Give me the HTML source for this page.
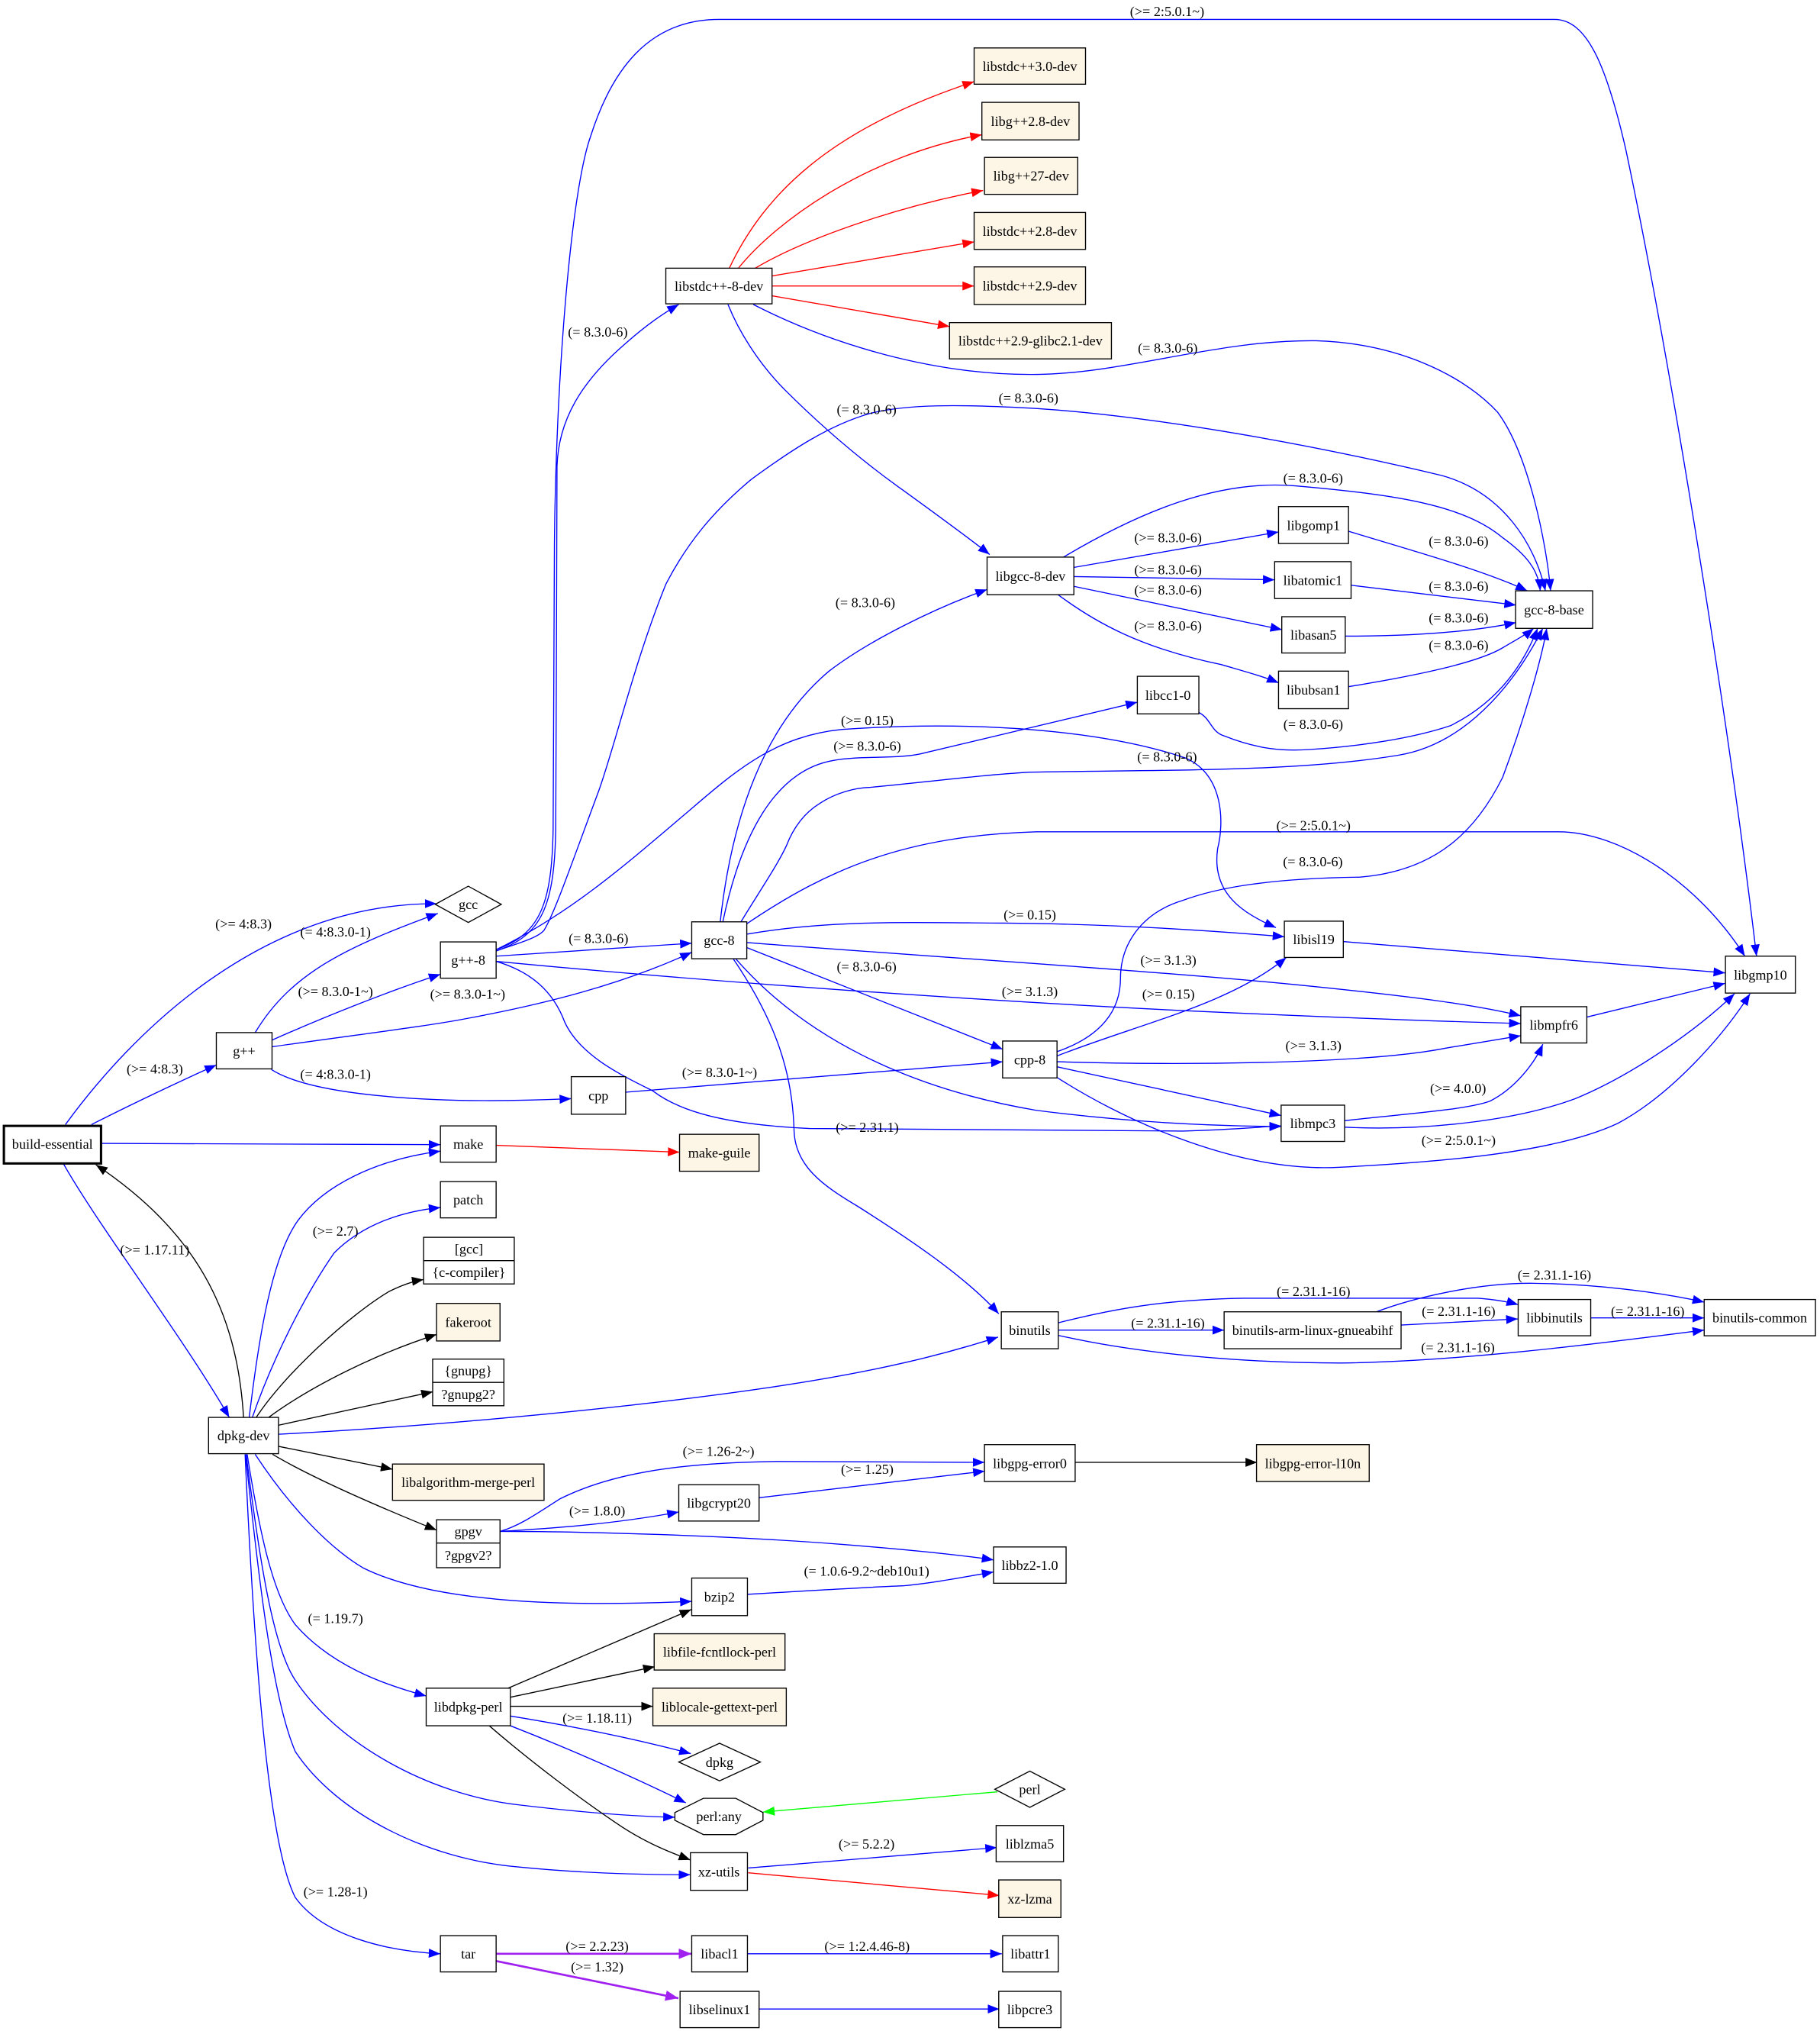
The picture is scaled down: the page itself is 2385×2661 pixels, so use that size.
<!DOCTYPE html>
<html><head><meta charset="utf-8"><style>
html,body{margin:0;padding:0;background:#fff;}
svg{display:block;}
text{font-family:"Liberation Serif","Times New Roman",serif;font-size:10.7px;fill:#000;text-anchor:middle;}
.e{fill:none;stroke-width:0.8;}
.b{stroke:#0000ff;}.k{stroke:#000;}.r{stroke:#ff0000;}.g{stroke:#00ff00;}.p{stroke:#a020f0;stroke-width:1.6;}
.n{fill:#fff;stroke:#000;stroke-width:0.8;}
.f{fill:#fdf5e6;stroke:#000;stroke-width:0.8;}
</style></head><body>
<svg xmlns="http://www.w3.org/2000/svg" width="2385" height="2661" viewBox="0 0 1405 1567.6">
<defs>
<marker id="ab" markerUnits="userSpaceOnUse" markerWidth="9" markerHeight="7" viewBox="0 0 9 7" refX="9" refY="3.5" orient="auto"><path d="M0,0L9,3.5L0,7z" fill="#0000ff"/></marker>
<marker id="ak" markerUnits="userSpaceOnUse" markerWidth="9" markerHeight="7" viewBox="0 0 9 7" refX="9" refY="3.5" orient="auto"><path d="M0,0L9,3.5L0,7z" fill="#000"/></marker>
<marker id="ar" markerUnits="userSpaceOnUse" markerWidth="9" markerHeight="7" viewBox="0 0 9 7" refX="9" refY="3.5" orient="auto"><path d="M0,0L9,3.5L0,7z" fill="#ff0000"/></marker>
<marker id="ag" markerUnits="userSpaceOnUse" markerWidth="9" markerHeight="7" viewBox="0 0 9 7" refX="9" refY="3.5" orient="auto"><path d="M0,0L9,3.5L0,7z" fill="#00ff00"/></marker>
<marker id="ap" markerUnits="userSpaceOnUse" markerWidth="10" markerHeight="8" viewBox="0 0 10 8" refX="10" refY="4" orient="auto"><path d="M0,0L10,4L0,8z" fill="#a020f0"/></marker>
</defs>
<rect x="0" y="0" width="1405" height="1567.6" fill="#fff"/>

<!-- blue edges -->
<g class="e b" marker-end="url(#ab)">
<path d="M50.5,868 C100,800 200,697 337,697.5"/>
<path d="M70.6,868 C100,853 140,834 167,822"/>
<path d="M78,882.5 L340,883.5"/>
<path d="M48,896.5 C75,945 140,1030 177,1094"/>
<path d="M197,797 C225,750 270,730 338,705"/>
<path d="M209.5,803 C250,785 300,765 340,752"/>
<path d="M209.5,808 C280,798 330,792 361,786 C420,775 480,760 534,735"/>
<path d="M209.5,825.5 C240,845 330,853 441,848"/>
<path d="M383,734 C418,722 428,700 429,640 C430,560 429,420 430,360 C431,325 448,295 483,265 C500,250 512,242 524,235"/>
<path d="M383,733 C416,721 426,700 427,640 L428,420 C429,300 440,150 456,105 C472,55 500,15 555,15 L1200,15 C1225,15 1240,50 1255,115 C1290,280 1335,560 1356,738"/>
<path d="M383,734 C400,728 415,724 420,718 C428,705 440,670 462,611 C475,575 490,510 514,451 C530,420 550,395 580,370 C610,348 640,328 672,319 C700,312 740,312 795,315 C880,320 1000,340 1113,367 C1160,380 1185,420 1193,456"/>
<path d="M383,738 L534,728"/>
<path d="M383,733 C440,705 480,670 534,624 C570,593 600,568 650,563 C750,556 850,563 915,585 C945,598 945,635 940,655 C935,690 960,705 985,716"/>
<path d="M383,742 C550,758 750,772 913,780 C1000,784 1100,788 1174,790"/>
<path d="M383,742 C410,750 427,765 436,789 C448,815 480,830 504,842 C525,858 560,868 625,871 L913,873 C950,872 970,870 989,869"/>
<path d="M556,711.5 C565,630 590,560 640,518 C670,495 720,470 762,455"/>
<path d="M558,711.5 C572,645 598,595 643,587 C665,583 690,586 710,582 L878,542"/>
<path d="M572,711.5 C585,690 600,668 607,653 C612,640 620,628 633,620 C645,612 660,608 672,607.7 C720,603 760,598 795,596 C900,594 1000,596 1079,583 C1130,575 1168,530 1191,485"/>
<path d="M576.5,713 C640,670 700,645 800,642 L1203,642 C1250,642 1310,680 1347,738"/>
<path d="M576.5,721 C640,710 700,712 775,712.5 C850,713 920,717 991.5,723"/>
<path d="M576.5,727.5 C700,737 900,750 1000,760 C1100,770 1140,776 1174,784"/>
<path d="M576.5,731.4 L774,809.8"/>
<path d="M568,740 C620,800 700,840 800,857 C870,866 930,869 989,869.5"/>
<path d="M566,740 C600,790 612,830 613,873 C614,900 635,915 662,931 C700,955 745,985 771,1014"/>
<path d="M816,811.7 C850,800 865,780 865,755 C865,730 880,705 913,695 C940,685 980,678 1050,677 C1110,672 1140,640 1160,600 C1175,560 1190,510 1194,485"/>
<path d="M816,815 C880,790 950,775 993,739"/>
<path d="M816,819.5 C900,822 1050,822 1116,809 L1174,799.4"/>
<path d="M816,823.4 L989,861"/>
<path d="M816,831.6 C860,860 950,905 1033,901 C1110,897 1200,890 1249,867 C1290,845 1330,800 1351,767"/>
<path d="M483,843 L774,819.5"/>
<path d="M821,430 C880,395 940,370 1000,375 C1080,382 1130,390 1160,415 C1178,428 1188,440 1189,456"/>
<path d="M828.7,438 L987,410.6"/>
<path d="M828.7,445 L984,447.5"/>
<path d="M828.7,452.5 L989.7,486"/>
<path d="M816.8,459 C845,480 880,500 943,513 C960,518 975,522 987,527"/>
<path d="M1041,410 C1090,425 1145,440 1179,456"/>
<path d="M1043,451.7 L1170.3,467"/>
<path d="M1038.4,491 C1080,491 1130,489 1170.3,480.5"/>
<path d="M1041,530 C1090,522 1140,512 1160,500 C1170,494 1178,490 1184,485"/>
<path d="M925.7,550 C935,555 935,565 945,568 C970,578 990,580 1011,578.5 C1050,576 1090,570 1120,560 C1160,540 1178,508 1187,485"/>
<path d="M581.5,235 C640,265 720,290 801,289 C870,288 940,262 1016,263 C1080,265 1130,290 1156,318 C1180,350 1194,420 1197,456"/>
<path d="M562,235 C570,255 585,280 606,301 C630,325 660,352 698,379 C720,395 745,413 764,428"/>
<path d="M817.4,1026.6 L945,1026.6"/>
<path d="M817,1021 C860,1010 900,1003 960,1002 L1141,1002 C1155,1003 1165,1005 1172,1007"/>
<path d="M817,1030.7 C880,1045 960,1052 1035,1052 C1130,1051 1250,1035 1315.6,1026.6"/>
<path d="M1062.6,1012.5 C1090,1002 1140,990 1184,990.5 C1230,991 1280,997 1315.6,1005"/>
<path d="M1081.6,1022.7 L1171.7,1018"/>
<path d="M1228,1017.2 L1315.6,1017.2"/>
<path d="M1036.6,726.7 L1331.8,750.9"/>
<path d="M1225,785 L1331.8,759"/>
<path d="M1038,865 C1080,860 1130,857 1150,850 C1170,840 1185,820 1191,806"/>
<path d="M1038,870 C1100,873 1170,865 1216,848 C1260,830 1310,795 1339,767"/>
<path d="M192.4,1094 C200,1030 210,970 230,942 C250,915 290,895 340,888.5"/>
<path d="M194.8,1094 C210,1050 235,1000 258,967 C280,945 310,935 340,932"/>
<path d="M215,1107 C350,1100 500,1085 600,1070 C680,1058 730,1045 770.5,1032"/>
<path d="M197,1122.5 C225,1165 255,1195 280,1210 C330,1235 420,1241 534,1236"/>
<path d="M190.8,1122.5 C200,1180 210,1230 228,1254 C255,1285 295,1300 329,1309"/>
<path d="M190,1122.5 C200,1200 210,1270 228,1297 C260,1345 330,1385 400,1393 C450,1399 490,1402 521,1402.6"/>
<path d="M189.5,1122.5 C200,1220 210,1310 228,1352 C260,1400 330,1435 400,1441 C450,1446 500,1447 533,1447"/>
<path d="M189.2,1122.5 C195,1250 205,1420 228,1464.6 C250,1495 300,1506 340,1508"/>
<path d="M386,1182 C400,1178 412,1170 432,1157 C470,1138 520,1129 600,1128 L760,1128.7"/>
<path d="M386,1182 C420,1180 470,1177 524,1167"/>
<path d="M386,1182 C450,1182 560,1185 650,1192 C700,1196 740,1200 767,1204"/>
<path d="M586,1156 L760.2,1135.5"/>
<path d="M576.5,1230.6 C620,1228 670,1225 697,1224 C720,1222 745,1217 767,1213.3"/>
<path d="M394,1324.5 C440,1332 490,1342 533.3,1353.5"/>
<path d="M394,1332 C440,1350 490,1372 529.5,1391.5"/>
<path d="M577.6,1441.8 L769.6,1426"/>
<path d="M576.5,1508 L773.4,1508"/>
<path d="M585.5,1550.6 L771.5,1550.6"/>
</g>

<!-- black edges -->
<g class="e k" marker-end="url(#ak)">
<path d="M188,1094 C183,1010 150,950 74,899"/>
<path d="M197.8,1094 C220,1060 270,1015 300,997 C310,992 318,989 327,987.6"/>
<path d="M207.4,1094 C240,1070 290,1045 337,1030"/>
<path d="M215.2,1100 L334.2,1074.2"/>
<path d="M215.2,1116.4 L303,1134"/>
<path d="M210.4,1122.5 C240,1140 290,1162 337,1181"/>
<path d="M830,1128.7 L970.5,1128.7"/>
<path d="M392.2,1303 L533.7,1242.3"/>
<path d="M394,1310 L505.5,1286.4"/>
<path d="M394,1317 L504,1317"/>
<path d="M377,1331.4 C410,1360 450,1390 480,1410 C500,1423 518,1430 533,1435.6"/>
</g>

<!-- red edges -->
<g class="e r" marker-end="url(#ar)">
<path d="M563,207 C590,150 640,100 752,63"/>
<path d="M570,207 C600,170 670,120 758,104"/>
<path d="M583,207 C620,185 690,160 759,147"/>
<path d="M596,213 L752,186.7"/>
<path d="M596,220.7 L752,220.7"/>
<path d="M596,228.3 L733,252"/>
<path d="M383,884 L524.6,889.3"/>
<path d="M577.6,1445.5 L771.5,1463"/>
</g>

<path class="e g" marker-end="url(#ag)" d="M770,1383 L589,1398.6"/>
<g class="e p" marker-end="url(#ap)">
<path d="M383,1508 L534,1508"/>
<path d="M383,1513.6 L523.7,1542.3"/>
</g>

<!-- nodes -->
<rect x="3" y="869" width="75" height="29" fill="#fff" stroke="#000" stroke-width="1.8"/>
<text x="40.5" y="886.7">build-essential</text>
<polygon class="n" points="336,698 361.5,684 387,698 361.5,712"/>
<text x="361.5" y="701.7">gcc</text>
<rect class="n" x="340" y="727" width="43" height="28"/><text x="361.5" y="744.7">g++-8</text>
<rect class="n" x="167" y="797" width="43" height="28"/><text x="188.5" y="814.7">g++</text>
<rect class="n" x="441" y="831" width="42" height="29"/><text x="462" y="849.2">cpp</text>
<rect class="n" x="340" y="869" width="43" height="28"/><text x="361.5" y="886.7">make</text>
<rect class="n" x="340" y="912" width="43" height="28"/><text x="361.5" y="929.7">patch</text>
<rect class="n" x="327" y="955" width="70" height="36"/><line x1="327" y1="973" x2="397" y2="973" stroke="#000" stroke-width="0.8"/>
<text x="362" y="967.7">[gcc]</text><text x="362" y="985.7">{c-compiler}</text>
<rect class="f" x="337" y="1006" width="49" height="29"/><text x="361.5" y="1024.2">fakeroot</text>
<rect class="n" x="334" y="1049" width="55" height="36"/><line x1="334" y1="1067" x2="389" y2="1067" stroke="#000" stroke-width="0.8"/>
<text x="361.5" y="1061.7">{gnupg}</text><text x="361.5" y="1079.7">?gnupg2?</text>
<rect class="n" x="161" y="1094" width="54" height="28"/><text x="188" y="1111.7">dpkg-dev</text>
<rect class="f" x="303" y="1130" width="117" height="28"/><text x="361.5" y="1147.7">libalgorithm-merge-perl</text>
<rect class="n" x="337" y="1173" width="49" height="37"/><line x1="337" y1="1191" x2="386" y2="1191" stroke="#000" stroke-width="0.8"/>
<text x="361.5" y="1185.7">gpgv</text><text x="361.5" y="1204.2">?gpgv2?</text>
<rect class="n" x="329" y="1303" width="65" height="29"/><text x="361.5" y="1321.2">libdpkg-perl</text>
<rect class="n" x="340" y="1494" width="43" height="28"/><text x="361.5" y="1511.7">tar</text>

<rect class="n" x="760" y="1115" width="70" height="28.5"/><text x="795" y="1133">libgpg-error0</text>
<rect class="f" x="970" y="1115" width="87" height="28.5"/><text x="1013.5" y="1133">libgpg-error-l10n</text>
<rect class="n" x="524" y="1146" width="62" height="28"/><text x="555" y="1163.7">libgcrypt20</text>
<rect class="n" x="767" y="1194" width="56" height="28"/><text x="795" y="1211.7">libbz2-1.0</text>
<rect class="n" x="534" y="1218" width="43" height="29"/><text x="555.5" y="1236.2">bzip2</text>
<rect class="f" x="505" y="1261" width="101" height="28"/><text x="555.5" y="1278.7">libfile-fcntllock-perl</text>
<rect class="f" x="504" y="1303" width="103" height="29"/><text x="555.5" y="1321.2">liblocale-gettext-perl</text>
<polygon class="n" points="524,1360 555.5,1345.5 587,1360 555.5,1374.5"/><text x="555.5" y="1363.7">dpkg</text>
<polygon class="n" points="768,1381 795,1367 822,1381 795,1395"/><text x="795" y="1384.7">perl</text>
<polygon class="n" points="521,1399 521,1405 543,1416 568,1416 589,1405 589,1399 568,1388 543,1388"/><text x="555" y="1405.7">perl:any</text>
<rect class="n" x="533" y="1430" width="44" height="29"/><text x="555" y="1448.2">xz-utils</text>
<rect class="n" x="769" y="1409" width="52" height="28"/><text x="795" y="1426.7">liblzma5</text>
<rect class="f" x="771" y="1451" width="48" height="29"/><text x="795" y="1469.2">xz-lzma</text>
<rect class="n" x="534" y="1494" width="43" height="28"/><text x="555.5" y="1511.7">libacl1</text>
<rect class="n" x="774" y="1494" width="43" height="28"/><text x="795.5" y="1511.7">libattr1</text>
<rect class="n" x="525" y="1537" width="61" height="28"/><text x="555.5" y="1554.7">libselinux1</text>
<rect class="n" x="771" y="1537" width="48" height="28"/><text x="795" y="1554.7">libpcre3</text>

<rect class="n" x="514" y="207" width="82" height="27.5"/><text x="555" y="224.5">libstdc++-8-dev</text>
<rect class="f" x="752" y="37" width="86" height="28"/><text x="795" y="54.7">libstdc++3.0-dev</text>
<rect class="f" x="758" y="79" width="75" height="29"/><text x="795.5" y="97.2">libg++2.8-dev</text>
<rect class="f" x="760" y="121.5" width="72" height="28.5"/><text x="796" y="139.4">libg++27-dev</text>
<rect class="f" x="752" y="164" width="86" height="28.5"/><text x="795" y="181.9">libstdc++2.8-dev</text>
<rect class="f" x="752" y="206" width="86" height="29"/><text x="795" y="224.2">libstdc++2.9-dev</text>
<rect class="f" x="733" y="249" width="125" height="28"/><text x="795.5" y="266.7">libstdc++2.9-glibc2.1-dev</text>

<rect class="n" x="1332" y="738" width="54" height="28.5"/><text x="1359" y="756">libgmp10</text>
<rect class="n" x="991.5" y="711" width="45.5" height="28"/><text x="1014.2" y="728.7">libisl19</text>
<rect class="n" x="1174" y="777" width="51" height="28"/><text x="1199.5" y="794.7">libmpfr6</text>
<rect class="n" x="989" y="853" width="49" height="28"/><text x="1013.5" y="870.7">libmpc3</text>
<rect class="n" x="762" y="430" width="67" height="29"/><text x="795.5" y="448.2">libgcc-8-dev</text>
<rect class="n" x="987" y="391" width="54" height="28.5"/><text x="1014" y="409">libgomp1</text>
<rect class="n" x="984" y="433.5" width="59" height="28.5"/><text x="1013.5" y="451.4">libatomic1</text>
<rect class="n" x="989.5" y="476" width="49" height="28"/><text x="1014" y="493.7">libasan5</text>
<rect class="n" x="987" y="518" width="54" height="29"/><text x="1014" y="536.2">libubsan1</text>
<rect class="n" x="878" y="522" width="47.5" height="29"/><text x="901.7" y="540.2">libcc1-0</text>
<rect class="n" x="1170" y="456" width="59.5" height="29"/><text x="1199.7" y="474.2">gcc-8-base</text>
<rect class="n" x="534" y="711.5" width="42.5" height="28.5"/><text x="555.2" y="729.4">gcc-8</text>
<rect class="n" x="774" y="803.5" width="42" height="28.5"/><text x="795" y="821.4">cpp-8</text>
<rect class="f" x="524.6" y="875.5" width="61.4" height="28.5"/><text x="555.3" y="893.4">make-guile</text>
<rect class="n" x="773" y="1012.5" width="44" height="28.5"/><text x="795" y="1030.4">binutils</text>
<rect class="n" x="945" y="1012.5" width="136.6" height="28.5"/><text x="1013.3" y="1030.4">binutils-arm-linux-gnueabihf</text>
<rect class="n" x="1172" y="1003" width="56" height="28"/><text x="1200" y="1020.7">libbinutils</text>
<rect class="n" x="1315.6" y="1003" width="85.9" height="28"/><text x="1358.5" y="1020.7">binutils-common</text>

<!-- edge labels -->
<g>
<text x="901" y="12.4">(&gt;= 2:5.0.1~)</text>
<text x="461.5" y="259.7">(= 8.3.0-6)</text>
<text x="901.5" y="272.2">(= 8.3.0-6)</text>
<text x="794" y="310.7">(= 8.3.0-6)</text>
<text x="669" y="319.7">(= 8.3.0-6)</text>
<text x="1013.7" y="372.7">(= 8.3.0-6)</text>
<text x="901.7" y="418.7">(&gt;= 8.3.0-6)</text>
<text x="1126" y="421.2">(= 8.3.0-6)</text>
<text x="901.7" y="443.2">(&gt;= 8.3.0-6)</text>
<text x="1126" y="456.1">(= 8.3.0-6)</text>
<text x="901.7" y="459">(&gt;= 8.3.0-6)</text>
<text x="668" y="468.7">(= 8.3.0-6)</text>
<text x="1126" y="480.3">(= 8.3.0-6)</text>
<text x="901.7" y="486.5">(&gt;= 8.3.0-6)</text>
<text x="1126" y="501.7">(= 8.3.0-6)</text>
<text x="669.5" y="559.7">(&gt;= 0.15)</text>
<text x="1013.8" y="562.7">(= 8.3.0-6)</text>
<text x="669.5" y="579.3">(&gt;= 8.3.0-6)</text>
<text x="901" y="587.7">(= 8.3.0-6)</text>
<text x="1014" y="640.7">(&gt;= 2:5.0.1~)</text>
<text x="1013.5" y="668.7">(= 8.3.0-6)</text>
<text x="188" y="716.7">(&gt;= 4:8.3)</text>
<text x="259" y="722.7">(= 4:8.3.0-1)</text>
<text x="462" y="727.7">(= 8.3.0-6)</text>
<text x="795" y="709.7">(&gt;= 0.15)</text>
<text x="902" y="744.7">(&gt;= 3.1.3)</text>
<text x="669" y="749.7">(= 8.3.0-6)</text>
<text x="259" y="768.7">(&gt;= 8.3.0-1~)</text>
<text x="361" y="770.7">(&gt;= 8.3.0-1~)</text>
<text x="795" y="768.7">(&gt;= 3.1.3)</text>
<text x="902" y="770.7">(&gt;= 0.15)</text>
<text x="1014" y="810.7">(&gt;= 3.1.3)</text>
<text x="119.5" y="828.7">(&gt;= 4:8.3)</text>
<text x="259" y="832.7">(= 4:8.3.0-1)</text>
<text x="555.5" y="831.2">(&gt;= 8.3.0-1~)</text>
<text x="1125.6" y="843.7">(&gt;= 4.0.0)</text>
<text x="669.5" y="873.7">(&gt;= 2.31.1)</text>
<text x="1126" y="883.7">(&gt;= 2:5.0.1~)</text>
<text x="259" y="953.7">(&gt;= 2.7)</text>
<text x="119.5" y="968.2">(&gt;= 1.17.11)</text>
<text x="1200" y="987.7">(= 2.31.1-16)</text>
<text x="1014" y="1000.3">(= 2.31.1-16)</text>
<text x="901.6" y="1024.7">(= 2.31.1-16)</text>
<text x="1126" y="1015.7">(= 2.31.1-16)</text>
<text x="1272" y="1015.7">(= 2.31.1-16)</text>
<text x="1125.5" y="1043.7">(= 2.31.1-16)</text>
<text x="554.7" y="1123.7">(&gt;= 1.26-2~)</text>
<text x="669.5" y="1137.7">(&gt;= 1.25)</text>
<text x="461" y="1169.7">(&gt;= 1.8.0)</text>
<text x="669" y="1216.1">(= 1.0.6-9.2~deb10u1)</text>
<text x="259" y="1252.7">(= 1.19.7)</text>
<text x="461" y="1329.7">(&gt;= 1.18.11)</text>
<text x="669" y="1426.7">(&gt;= 5.2.2)</text>
<text x="259" y="1463.7">(&gt;= 1.28-1)</text>
<text x="461" y="1505.7">(&gt;= 2.2.23)</text>
<text x="461" y="1521.7">(&gt;= 1.32)</text>
<text x="669.4" y="1505.7">(&gt;= 1:2.4.46-8)</text>
</g>
</svg>
</body></html>
